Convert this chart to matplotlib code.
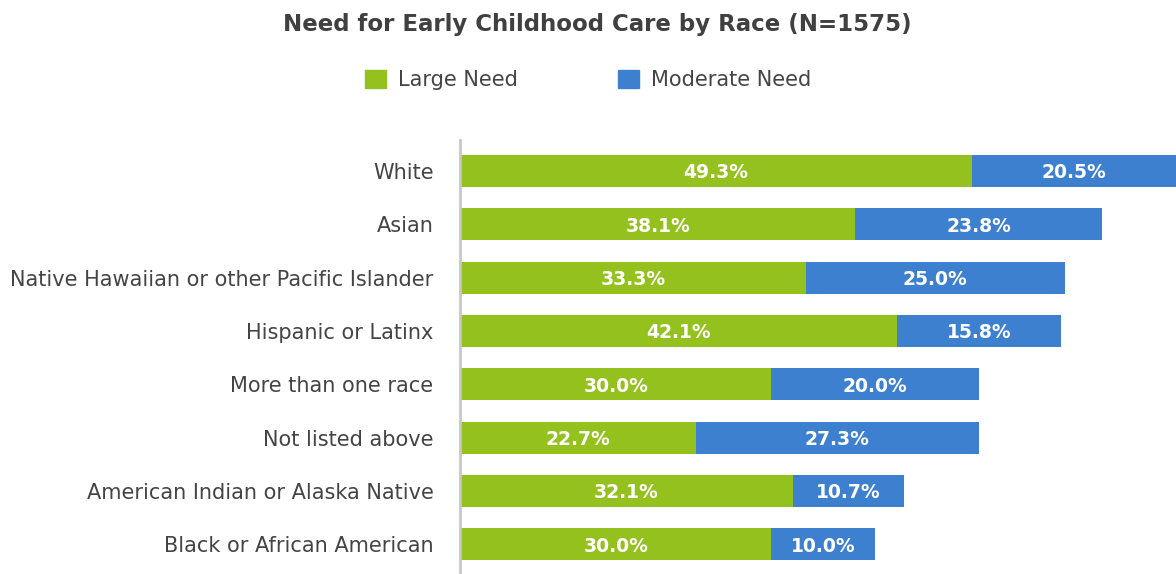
import matplotlib
matplotlib.use("Agg")
import matplotlib.pyplot as plt
from matplotlib.patches import Patch

races = ["White", "Asian", "Native Hawaiian or other Pacific Islander",
         "Hispanic or Latinx", "More than one race", "Not listed above",
         "American Indian or Alaska Native", "Black or African American"]
large_need = [49.3, 38.1, 33.3, 42.1, 30.0, 22.7, 32.1, 30.0]
moderate_need = [20.5, 23.8, 25.0, 15.8, 20.0, 27.3, 10.7, 10.0]

green = "#95c11f"
blue = "#3e80d0"
text_col = "#444444"

plt.rcParams['font.family'] = ['DejaVu Sans']

fig = plt.figure(figsize=(11.76, 5.74), dpi=100)
ax = fig.add_axes([460 / 1176, 0, 716 / 1176, 434 / 574])

y = list(range(len(races)))
ax.barh(y, large_need, height=0.6, color=green)
ax.barh(y, moderate_need, left=large_need, height=0.6, color=blue)

xmax = 69.0
ax.set_xlim(0, xmax)
ax.set_ylim(7.56, -0.58)

for i in y:
    ax.text(large_need[i] / 2, i, f"{large_need[i]:.1f}%", ha="center", va="center_baseline",
            color="white", fontsize=13.5, fontweight="bold")
    end = min(large_need[i] + moderate_need[i], xmax)
    ax.text((large_need[i] + end) / 2, i, f"{moderate_need[i]:.1f}%", ha="center",
            va="center_baseline", color="white", fontsize=13.5, fontweight="bold")

ax.set_yticks(y)
ax.set_yticklabels(races, fontsize=15, color=text_col)
ax.tick_params(axis="y", length=0, pad=19)
ax.set_xticks([])
for s in ["top", "right", "bottom"]:
    ax.spines[s].set_visible(False)
ax.spines["left"].set_color("#c8c8c8")
ax.spines["left"].set_linewidth(2)

fig.text(597 / 1176, 1 - 24 / 574, "Need for Early Childhood Care by Race (N=1575)",
         ha="center", va="center", fontsize=16.5, fontweight="bold", color="#404040")

handles = [Patch(color=green, label="Large Need"), Patch(color=blue, label="Moderate Need")]
fig.legend(handles=handles, loc="center", bbox_to_anchor=(588 / 1176, 1 - 80 / 574),
           ncol=2, frameon=False, fontsize=15, handlelength=1.0, handleheight=1.0,
           columnspacing=4.8, handletextpad=0.58, labelcolor=text_col)

fig.savefig("out.png", dpi=100)
